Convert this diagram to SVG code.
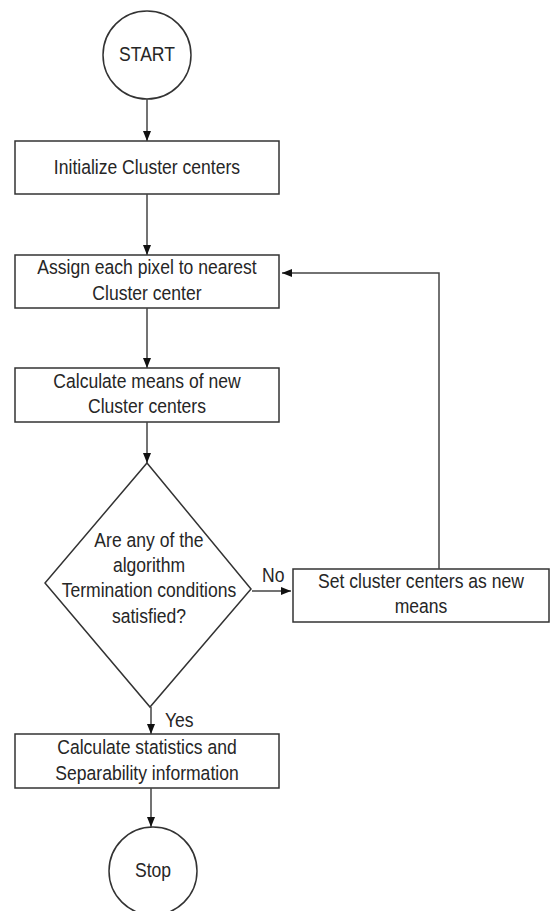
<svg xmlns="http://www.w3.org/2000/svg" width="551" height="911" viewBox="0 0 551 911">
<style>
.shape{fill:#fff;stroke:#333;stroke-width:1.5}
.conn{fill:none;stroke:#444;stroke-width:1.5}
text{font-family:"Liberation Sans",Arial,sans-serif;font-size:19.5px;fill:#262626;text-anchor:middle}
.lbl{text-anchor:start}
</style>
<defs>
<marker id="arr" markerWidth="11" markerHeight="11" refX="10" refY="5" orient="auto" markerUnits="userSpaceOnUse">
<path d="M0,1 L10,5 L0,9 Z" fill="#111"/>
</marker>
</defs>
<g id="start">
<circle class="shape" cx="147" cy="55" r="44"/>
<g transform="scale(0.9,1)"><text x="163.33" y="61">START</text></g>
</g>
<g id="init">
<rect class="shape" x="15" y="141" width="264" height="53"/>
<g transform="scale(0.9,1)"><text x="163.33" y="174">Initialize Cluster centers</text></g>
</g>
<g id="assign">
<rect class="shape" x="15" y="255" width="264" height="53"/>
<g transform="scale(0.9,1)">
<text x="163.33" y="274">Assign each pixel to nearest</text>
<text x="163.33" y="300">Cluster center</text>
</g>
</g>
<g id="means">
<rect class="shape" x="15" y="368" width="264" height="54"/>
<g transform="scale(0.9,1)">
<text x="163.33" y="388">Calculate means of new</text>
<text x="163.33" y="413">Cluster centers</text>
</g>
</g>
<g id="decision">
<polygon class="shape" points="147,463 251,589 150,707 45,583"/>
<g transform="scale(0.9,1)">
<text x="165.56" y="547">Are any of the</text>
<text x="165.56" y="572">algorithm</text>
<text x="165.56" y="597">Termination conditions</text>
<text x="165.56" y="623">satisfied?</text>
</g>
</g>
<g id="setcenters">
<rect class="shape" x="293" y="569" width="256" height="53"/>
<g transform="scale(0.9,1)">
<text x="467.78" y="588">Set cluster centers as new</text>
<text x="467.78" y="613">means</text>
</g>
</g>
<g id="stats">
<rect class="shape" x="15" y="734" width="264" height="54"/>
<g transform="scale(0.9,1)">
<text x="163.33" y="754">Calculate statistics and</text>
<text x="163.33" y="780">Separability information</text>
</g>
</g>
<g id="stop">
<circle class="shape" cx="153" cy="871" r="44"/>
<g transform="scale(0.9,1)"><text x="170" y="877">Stop</text></g>
</g>
<g id="connectors">
<line class="conn" x1="147" y1="99" x2="147" y2="141" marker-end="url(#arr)"/>
<line class="conn" x1="147" y1="194" x2="147" y2="255" marker-end="url(#arr)"/>
<line class="conn" x1="147" y1="308" x2="147" y2="368" marker-end="url(#arr)"/>
<line class="conn" x1="147" y1="422" x2="147" y2="463" marker-end="url(#arr)"/>
<line class="conn" x1="252" y1="591" x2="291" y2="591" marker-end="url(#arr)"/>
<polyline class="conn" points="439,569 439,273 282,273" marker-end="url(#arr)"/>
<line class="conn" x1="151" y1="707" x2="151" y2="734" marker-end="url(#arr)"/>
<line class="conn" x1="151" y1="788" x2="151" y2="827" marker-end="url(#arr)"/>
<g transform="scale(0.9,1)">
<text class="lbl" x="291.1" y="582">No</text>
<text class="lbl" x="183.3" y="727">Yes</text>
</g>
</g>
</svg>
